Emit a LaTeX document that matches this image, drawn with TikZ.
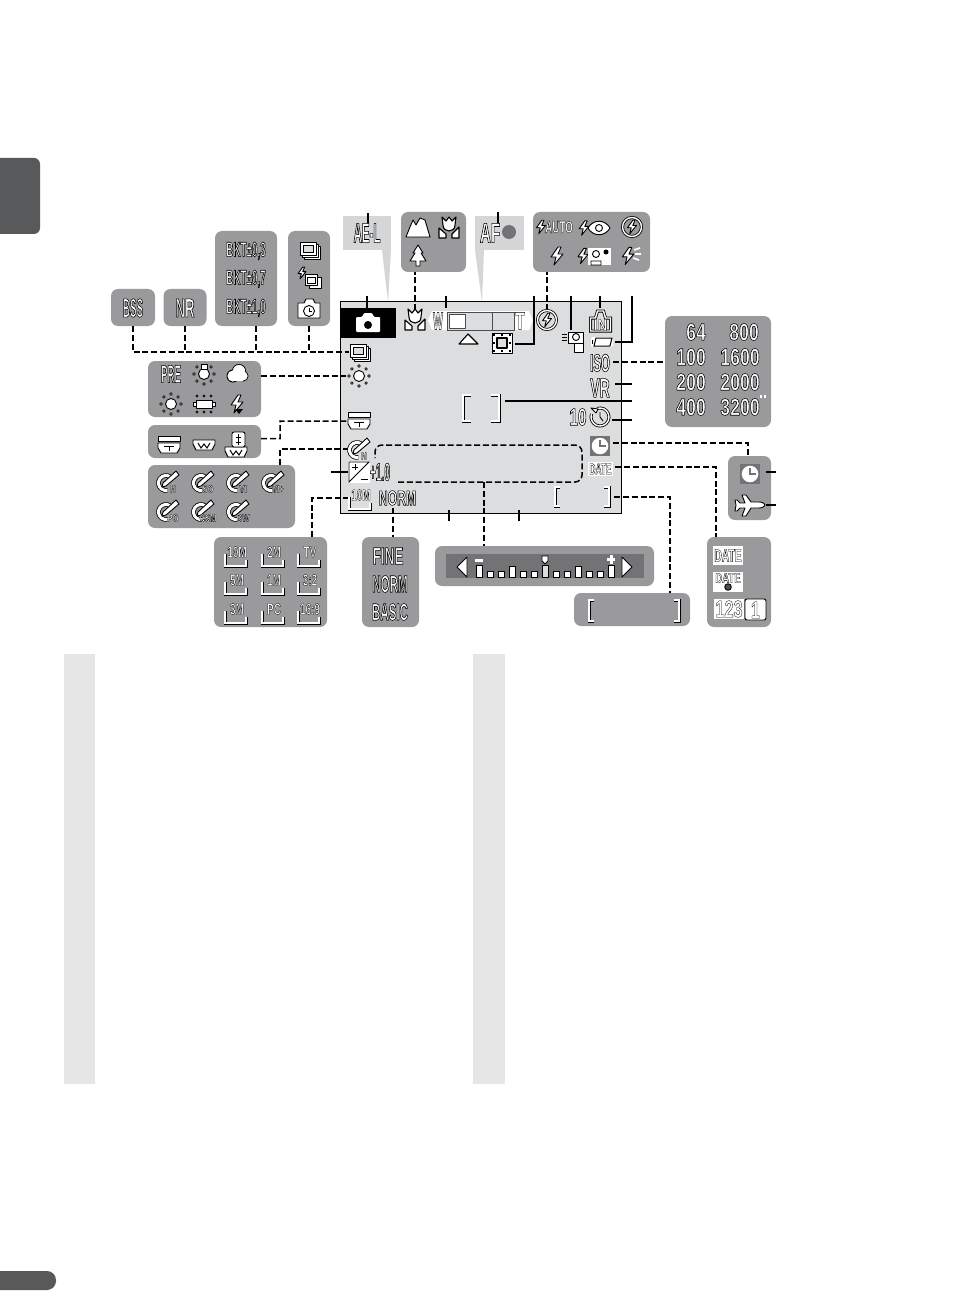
\documentclass[tikz,border=0pt]{standalone}
\usepackage{fontspec}
\usetikzlibrary{calc,positioning}
\definecolor{panelGray}{HTML}{9A9A9C}
\definecolor{screenGray}{HTML}{DCDDDF}
\definecolor{paleGray}{HTML}{E6E6E6}
\definecolor{calloutGray}{HTML}{D5D6D8}
\definecolor{tabGray}{HTML}{58595B}
\definecolor{slotGray}{HTML}{737375}
\tikzset{
  lcd/.style 2 args={inner sep=0pt,font={\fontsize{#1}{#1}\fontspec[FakeStretch=#2]{Liberation Sans}\bfseries},
    execute at begin node={\special{pdf:code q 1 1 1 rg 0 0 0 RG .55 w 2 Tr}},
    execute at end node={\special{pdf:code Q}}},
  tinylcd/.style 2 args={inner sep=0pt,font={\fontsize{#1}{#1}\fontspec[FakeStretch=#2]{Liberation Sans}\bfseries},
    execute at begin node={\special{pdf:code q 1 1 1 rg 0 0 0 RG .3 w 2 Tr}},
    execute at end node={\special{pdf:code Q}}},
  ic/.style={draw=black,fill=white,line width=.9pt,line join=round},
  ol/.style={draw=black,double=white,double distance=1.4pt,line width=.8pt},
  pics/camicon/.style={code={
    \fill[white,rounded corners=1pt] (-12,-6) -- (-6,-6) -- (-4,-10) -- (4,-10) -- (6,-6) -- (12,-6) -- (12,9) -- (-12,9) -- cycle;
    \fill[black] (0,2) circle (4);}},
  pics/bolt/.style={code={
    \draw[ic] (1,-9) -- (-6,1) -- (-1,1) -- (-3,9) -- (6,-2) -- (1,-2) -- (4,-9) -- cycle;}},
  pics/tulip/.style={code={
    \draw[ic,line width=1.1pt] (-10,0) -- (-3,6) -- (-3,10) -- (-10,10) -- cycle;
    \draw[ic,line width=1.1pt] (10,-1) -- (3,6) -- (3,10) -- (10,10) -- cycle;
    \draw[ic,line width=1.1pt] (-6,-3) -- (-7,-11) -- (-3,-7) -- (0,-11) -- (3,-7) -- (7,-11) -- (6,-3) .. controls (6,5) and (-6,5) .. (-6,-3) -- cycle;}},
  pics/hill/.style={code={
    \draw[ic] (-12,9) -- (-8,-1) -- (-5,-8) -- (-2,-3) -- (2,-10) -- (7,-8) -- (12,9) -- cycle;}},
  pics/tree/.style={code={
    \draw[ic] (0,-11) -- (-5,-3) -- (-3,-3) -- (-8,5) -- (-2,5) -- (-2,10) -- (2,10) -- (2,5) -- (8,5) -- (3,-3) -- (5,-3) -- cycle;}},
  pics/flashoff/.style={code={
    \draw[ol] (0,0) circle (9.5);
    \pic[scale=.75] {bolt};}},
  pics/redeye/.style={code={
    \pic[scale=.8] at (-11,0) {bolt};
    \draw[ic] (-7,0) .. controls (-2,-9) and (10,-9) .. (15,0) .. controls (10,9) and (-2,9) .. (-7,0) -- cycle;
    \draw[ic] (4,0) circle (3.5);}},
  pics/nightic/.style={code={
    \pic[scale=.85] at (-11,0) {bolt};
    \fill[white] (-6,-8) rectangle (17,9);
    \draw[black,line width=.9pt] (2,-2) circle (3.5) (-3,9) -- (-3,5) -- (7,5) -- (7,9) -- cycle;
    \fill[black] (12,-4) circle (2.5);}},
  pics/fillic/.style={code={
    \pic[scale=.95] at (-3,0) {bolt};
    \draw[white,line width=1.6pt] (3,-6) -- (9,-8) (4,-2) -- (10,-2) (2,2) -- (8,4);}},
  pics/sunic/.style={code={
    \draw[ic] (0,0) circle (5.5);
    \foreach \a in {0,45,...,315} \draw[ic,line width=.7pt] (\a:10) circle (1.3);}},
  pics/presetsun/.style={code={
    \draw[ic] (0,1) circle (5.5);
    \draw[ic] (-3,-9) rectangle (3,-4);
    \foreach \a in {0,45,135,180,225,90,315} \draw[ic,line width=.7pt] ($(0,1)+(\a:10)$) circle (1.3);}},
  pics/tubeic/.style={code={
    \draw[ic] (-8,-4) rectangle (8,4);
    \draw[ic] (-11,-2) rectangle (-8,2) (8,-2) rectangle (11,2);
    \foreach \a in {-7,0,7} {\draw[ic,line width=.7pt] (\a,-8) circle (1.2) (\a,8) circle (1.2);}}},
  pics/cloudic/.style={code={
    \fill[black] (-4,2) circle (6.5);
    \fill[black] (2,-3) circle (7);
    \fill[black] (6,2) circle (5.5);
    \fill[white] (-4,2) circle (5.6);
    \fill[white] (2,-3) circle (6.1);
    \fill[white] (6,2) circle (4.6);
    \fill[white] (-4,0) rectangle (6,6.5);}},
  pics/wbflash/.style={code={
    \pic {bolt};
    \fill[black] (-2,5) -- (6,5) -- (2,10) -- cycle;}},
  pics/stack/.style={code={
    \draw[ic] (-5,-4) rectangle (11,9);
    \draw[ic] (-7,-6) rectangle (9,7);
    \draw[ic] (-9,-8) rectangle (7,5);
    \draw[black,fill=screenGray,line width=.9pt] (-6,-5) rectangle (4,2);}},
  pics/bsstack/.style={code={
    \pic[scale=.65] at (-7,-6) {bolt};
    \draw[ic] (0,-2) rectangle (12,9);
    \draw[ic] (-4,-5) rectangle (8,6);
    \draw[black,line width=.9pt] (-2,-2) rectangle (6,4);}},
  pics/intervalic/.style={code={
    \draw[ic] (-11,-6) -- (-5,-6) -- (-3,-10) -- (4,-10) -- (6,-6) -- (11,-6) -- (11,9) -- (-11,9) -- cycle;
    \draw[ic] (0,2) circle (5.5);
    \draw[black,line width=.9pt] (0,-1) -- (0,2) -- (3,2);}},
  pics/shtele/.style={code={
    \draw[ic] (-11,-9) rectangle (11,-4);
    \draw[ic] (-11,-2) -- (11,-2) -- (11,3) -- (8,8) -- (-8,8) -- (-11,3) -- cycle;
    \draw[black,line width=1pt] (-5,1) -- (5,1) (0,1) -- (0,6);}},
  pics/shw/.style={code={
    \draw[ic] (-11,-5) -- (11,-5) -- (11,-1) -- (8,5) -- (-8,5) -- (-11,-1) -- cycle;
    \draw[black,line width=1pt] (-6,-2) -- (-3,3) -- (0,-1) -- (3,3) -- (6,-2);}},
  pics/shboth/.style={code={
    \pic at (-2,6) {shw};
    \draw[ic,rounded corners=2pt] (-6,-14) rectangle (7,1);
    \draw[black,line width=1pt] (.5,-12) -- (.5,-1) (-2,-9) -- (3,-9) (-2,-4) -- (3,-4);}},
  pics/colric/.style={code={
    \draw[draw=black,double=white,double distance=3pt,line width=.8pt] (-2,1) ++(-55:7.5) arc (-55:-280:7.5);
    \draw[ic,fill=white] (8,-11) -- (-5,1) -- (-6,5) -- (-2,4) -- (11,-7) -- cycle;
    \node[tinylcd={11}{.7}] (tag) at (5,7) {#1};}},
  pics/sizeic/.style={code={
    \draw[ol] (-10,-1) -- (-10,11) -- (11,11) -- (11,5);
    \node[tinylcd={16}{.62}] (tag) at (2,-3) {#1};}},
  pics/clockic/.style={code={
    \fill[slotGray] (-10,-10) rectangle (10,10);
    \fill[white] (0,0) circle (8.3);
    \draw[slotGray,line width=1.5pt] (0,-6) -- (0,0) -- (6,0);}},
  pics/planeic/.style={code={
    \draw[ic] (-9,-10) -- (-5,-10) -- (0,-3) -- (8,-3) .. controls (12,-3) and (14,-1) .. (14,0) .. controls (14,1) and (12,3) .. (8,3) -- (0,3) -- (-5,11) -- (-9,11) -- (-6,3) -- (-11,3) -- (-14,6) -- (-16,6) -- (-15,0) -- (-16,-5) -- (-14,-5) -- (-11,-2) -- (-6,-2) -- cycle;}},
  pics/timeric/.style={code={
    \draw[ol] (0,0) ++(-110:9) arc (-110:200:9);
    \draw[ic] (-9,-9) -- (-4,-4) -- (-2,-8) -- cycle;
    \draw[black,line width=.9pt] (0,-5) -- (0,0) -- (3,4);}},
  pics/afarea/.style={code={
    \draw[ic] (-10,-10) rectangle (10,10);
    \draw[ic,line width=1.6pt,fill=screenGray] (-5,-5) rectangle (5,5);
    \foreach \u/\v in {-8/-8,8/-8,-8/8,8/8,0/-8,0/8,-8/0,8/0} \fill[black] (\u-1.2,\v-1.2) rectangle (\u+1.2,\v+1.2);}},
  pics/moviec/.style={code={
    \draw[ic] (-4,-10) rectangle (11,1);
    \draw[ic] (4,-5) circle (3.5);
    \draw[ic] (2,1) rectangle (11,10);
    \draw[black,line width=1pt] (-10,-8) -- (-5,-8) (-10,-5) -- (-5,-5) (-10,-2) -- (-5,-2);}},
  pics/battic/.style={code={
    \fill[white,rounded corners=2pt] (-10,-5) rectangle (12,5);
    \draw[black,line width=1pt] (-5,-4) -- (11,-4) -- (9,4) -- (-7,4) -- cycle;
    \draw[black,line width=1pt] (-9,-2) -- (-9,2);}},
  pics/inic/.style={code={
    \draw[ol] (-10,10) -- (-10,-3) -- (-5,-3) -- (-3,-10) -- (3,-10) -- (5,-3) -- (10,-3) -- (10,10) -- cycle;
    \node[tinylcd={16}{.85}] (tag) at (0,4) {IN};}},
  pics/expic/.style={code={
    \fill[white] (-11,-11) rectangle (11,11);
    \draw[black,line width=.9pt] (-10,-10) -- (-10,10) -- (10,-10) -- cycle;
    \draw[black,line width=1pt] (-7,-5) -- (-1,-5) (-4,-8) -- (-4,-2) (2,7) -- (9,7);}},
  pics/datestamp/.style={code={
    \fill[white] (-15,-10) rectangle (15,10);
    \node[tinylcd={14}{.68}] (tag) at (0,-4) {DATE};
    \draw[ic,fill=black!70] (0,5) circle (3.3);}},
  box/.style={fill=panelGray,rounded corners=7pt,inner sep=0pt},
  slot/.style={inner sep=0pt,minimum size=20pt},
  dsh/.style={black,line width=1.5pt,dash pattern=on 6pt off 2.8pt},
  arr/.style={black,line width=1.3pt},
  brk/.style={ol}
}
\begin{document}
\begin{tikzpicture}[x=1pt,y=-1pt]
  \useasboundingbox (0,0) rectangle (954,1313);
  \fill[white] (0,0) rectangle (954,1313);

  \fill[tabGray,rounded corners=6pt] (-10,158) rectangle (40,234);
  \fill[tabGray,rounded corners=9pt] (-20,1271) rectangle (56,1290);
  \fill[paleGray] (64,654) rectangle (95,1084);
  \fill[paleGray] (473,654) rectangle (505,1084);

  \node[box,minimum width=44,minimum height=37] (bss) at (133,307.5) {};
  \node[box,minimum width=43,minimum height=37] (nrbox) at (185,307.5) {};
  \node[box,minimum width=62,minimum height=95] (bkt) at (246,278.5) {};
  \node[box,minimum width=42,minimum height=95] (cont) at (309,278.5) {};
  \node[box,minimum width=113,minimum height=56] (wbal) at (204.5,389) {};
  \node[box,minimum width=113,minimum height=33] (sharp) at (204.5,441.5) {};
  \node[box,minimum width=147,minimum height=63] (colr) at (221.5,496.5) {};
  \node[box,minimum width=113,minimum height=90] (isize) at (270.5,582) {};
  \node[box,minimum width=57,minimum height=90] (qual) at (390.5,582) {};
  \node[box,minimum width=219,minimum height=40] (tone) at (544.5,566) {};
  \node[box,minimum width=116,minimum height=33] (zone) at (632,609.5) {};
  \node[box,minimum width=64,minimum height=90] (dates) at (739,582) {};
  \node[box,minimum width=43,minimum height=64] (clocks) at (749.5,488) {};
  \node[box,minimum width=106,minimum height=111] (iso) at (718,371.5) {};
  \node[box,minimum width=117,minimum height=60] (flash) at (591.5,242) {};
  \node[box,minimum width=65,minimum height=60] (macro) at (433.5,242) {};

  \node[fill=calloutGray,minimum width=48,minimum height=34,inner sep=0pt] (ael) at (367,233) {};
  \node[fill=calloutGray,minimum width=49,minimum height=34,inner sep=0pt] (afl) at (499.5,233) {};
  \fill[calloutGray] (382,250) -- (391,250) -- (388,302) -- cycle;
  \fill[calloutGray] (475,250) -- (484,250) -- (482,302) -- cycle;

  \node[draw=black,fill=screenGray,line width=1pt,minimum width=281,minimum height=211,inner sep=0pt] (lcdscr) at (480.5,407.5) {};
  \node[fill=black,minimum width=56,minimum height=30,inner sep=0pt] (mode) at (368,323) {};
  \pic at (mode.center) {camicon};

  % screen slots
  \node[slot] (sCont) at (359,352) {};
  \node[slot] (sWb) at (359,376) {};
  \node[slot] (sSharp) at (359,421) {};
  \node[slot] (sCol) at (359,449) {};
  \node[slot] (sExp) at (359,472) {};
  \node[slot] (sSize) at (359,498) {};
  \node[slot,minimum size=10pt] (sQual) at (393,503) {};
  \node[slot] (sMacro) at (415,320) {};
  \node[slot] (sFlash) at (547,320) {};
  \node[slot,minimum size=4pt] (sIso) at (611,362) {};
  \node[slot,minimum size=4pt] (sClk) at (602,443) {};
  \node[slot,minimum size=4pt] (sDate) at (613,467) {};
  \node[slot,minimum size=4pt] (sZone) at (612,497) {};
  \coordinate (xBkt) at (256,326);
  \coordinate (xCol) at (280,465);
  \coordinate (xSize) at (312,537);
  \coordinate (xClk) at (748,456);
  \coordinate (xDate) at (716,537);
  \coordinate (xZone) at (670,593);
  \coordinate (xSharp) at (280,421);
  \coordinate (afTail) at (534,296);
  \coordinate (afHead) at (515,344);
  \coordinate (batTail) at (632,296);
  \coordinate (batHead) at (615,342);

  % connectors
  \draw[dsh] (bss.south) |- (sCont.west);
  \draw[dsh] (nrbox.south) -- ++(0,25);
  \draw[dsh] (xBkt) -- ++(0,25);
  \draw[dsh] (cont.south) -- ++(0,25);
  \draw[dsh] (wbal.east |- sWb) -- (sWb.west);
  \draw[dsh] (sharp.east) ++(0,-3) -- ++(19,0) -- (xSharp) -- (sSharp.west);
  \draw[dsh] (xCol) |- (sCol.west);
  \draw[dsh] (xSize) |- (sSize.west);
  \draw[dsh] (sQual.south) -- (sQual |- qual.north);
  \draw[dsh] (sMacro.north) -- (sMacro |- macro.south);
  \draw[dsh] (sFlash.north) -- (sFlash |- flash.south);
  \draw[dsh] (sIso.east) -- (iso.west |- sIso);
  \draw[dsh] (sClk.east) -| (xClk);
  \draw[dsh] (sDate.east) -| (xDate);
  \draw[dsh] (sZone.east) -| (xZone);

  \coordinate (toneA) at (398,482);
  \coordinate (toneB) at (582,445);
  \coordinate (toneC) at (375,458);
  \coordinate (toneD) at (484,482);
  \draw[dsh,rounded corners=7pt] (toneA) -| (toneB) -| (toneC);
  \draw[dsh] (toneD) -- (toneD |- tone.north);

  \draw[arr] (afTail) |- (afHead);
  \draw[arr] (batTail) |- (batHead);
  \coordinate (tAelA) at (368,213); \coordinate (tAelB) at (368,226);
  \coordinate (tModeA) at (367,296); \coordinate (tModeB) at (367,308);
  \coordinate (tZoomA) at (446,296); \coordinate (tZoomB) at (446,308);
  \coordinate (tAfA) at (498,212); \coordinate (tAfB) at (498,224);
  \coordinate (tMovA) at (571,296); \coordinate (tMovB) at (571,330);
  \coordinate (tInA) at (600,296); \coordinate (tInB) at (600,308);
  \coordinate (tVrA) at (615,384); \coordinate (tVrB) at (632,384);
  \coordinate (tFocA) at (505,401); \coordinate (tFocB) at (632,401);
  \coordinate (tTimA) at (612,420); \coordinate (tTimB) at (632,420);
  \coordinate (tExpA) at (331,472);
  \coordinate (tLowA) at (449,510); \coordinate (tLowB) at (449,521);
  \coordinate (tLowC) at (519,510); \coordinate (tLowD) at (519,521);
  \coordinate (tClkA) at (766,472); \coordinate (tClkB) at (776,472);
  \coordinate (tPlnA) at (766,505); \coordinate (tPlnB) at (776,505);
  \draw[arr] (tAelA) -- (tAelB);
  \draw[arr] (tModeA) -- (tModeB);
  \draw[arr] (tZoomA) -- (tZoomB);
  \draw[arr] (tAfA) -- (tAfB);
  \draw[arr] (tMovA) -- (tMovB);
  \draw[arr] (tInA) -- (tInB);
  \draw[arr] (tVrA) -- (tVrB);
  \draw[arr] (tFocA) -- (tFocB);
  \draw[arr] (tTimA) -- (tTimB);
  \draw[arr] (tExpA) -- (sExp.west);
  \draw[arr] (tLowA) -- (tLowB);
  \draw[arr] (tLowC) -- (tLowD);
  \draw[arr] (tClkA) -- (tClkB);
  \draw[arr] (tPlnA) -- (tPlnB);

  % panel contents
  \node[lcd={26.5}{.37}] (tBss) at (133,308) {BSS};
  \node[lcd={26.5}{.5}] (tNr) at (185,308) {NR};
  \node[lcd={21}{.47}] (tBktA) at (246,251) {BKT\textpm0,3};
  \node[lcd={21}{.47}] (tBktB) at (246,279) {BKT\textpm0,7};
  \node[lcd={21}{.47}] (tBktC) at (246,308) {BKT\textpm1,0};
  \pic at (309,250) {stack};
  \pic at (309,279) {bsstack};
  \pic at (309,309) {intervalic};

  \node[lcd={25}{.39}] (tPre) at (171,374) {PRE};
  \pic at (204,373) {presetsun};
  \pic at (237,374) {cloudic};
  \pic at (171,404) {sunic};
  \pic at (204,404) {tubeic};
  \pic at (237,404) {wbflash};

  \pic at (169,445) {shtele};
  \pic at (204,445) {shw};
  \pic at (238,446) {shboth};

  \foreach \u/\v/\t in {168/482/N,203/482/SO,238/482/VI,273/482/VI+,168/511/PO,203/511/CSM,238/511/BW} \pic at (\u,\v) {colric=\t};
  \foreach \u/\v/\t in {235/555/10M,272/555/2M,308/555/TV,235/583/5M,272/583/1M,308/583/3:2,235/612/3M,272/612/PC,308/612/16:9} \pic at (\u,\v) {sizeic=\t};

  \node[lcd={24}{.56}] (tFine) at (388,556) {FINE};
  \node[lcd={24}{.48}] (tNorm) at (390,584) {NORM};
  \node[lcd={24}{.48}] (tBasic) at (390,612) {BASIC};

  \fill[slotGray] (446,554) rectangle (644,578);
  \draw[ic] (467,557) -- (457,567) -- (467,577) -- cycle;
  \draw[ic] (622,557) -- (632,567) -- (622,577) -- cycle;
  \foreach \u in {490,501,523,534,556,567,589,600} \draw[ic] (\u-3,571) rectangle (\u+3,577);
  \foreach \u in {512,578} \draw[ic] (\u-3,566) rectangle (\u+3,577);
  \foreach \u in {479,611} \draw[ic] (\u-3,565) rectangle (\u+3,577);
  \draw[ic,fill=screenGray] (542,565) rectangle (548,577);
  \draw[ic] (542,556) -- (548,556) -- (548,561) -- (545,564) -- (542,561) -- cycle;
  \fill[white] (475,558.5) rectangle (483,561.5);
  \fill[white] (607,558) rectangle (615,561);
  \fill[white] (609.5,554.5) rectangle (612.5,564);

  \draw[brk] (594,600) -- (589,600) -- (589,621) -- (594,621);
  \draw[brk] (674,600) -- (679,600) -- (679,621) -- (674,621);

  \fill[white] (713,546) rectangle (743,565);
  \node[tinylcd={18}{.57}] (tDate) at (728,555.5) {DATE};
  \pic at (728,582) {datestamp};
  \fill[white] (714,599) rectangle (744,619);
  \fill[white,draw=black,line width=.9pt,rounded corners=2pt] (745,599) rectangle (766,620);
  \node[tinylcd={24}{.68}] (tCnt) at (729,609) {123};
  \node[tinylcd={24}{.68}] (tOne) at (755.5,610) {1};

  \pic at (750,474) {clockic};
  \pic at (751,505) {planeic};

  \foreach \u/\v/\t in {696/332/64,744/332/800,691/357/100,740/357/1600,691/382/200,740/382/2000,691/407/400,740/407/3200} \node[lcd={24}{.74}] (tIso\t) at (\u,\v) {\t};
  \fill[white] (760,395) rectangle (762,398);
  \fill[white] (764,395) rectangle (766,398);

  \pic at (449,228) {tulip};
  \pic at (418,228) {hill};
  \pic at (418,256) {tree};

  \pic[scale=.75] at (541,227) {bolt};
  \node[tinylcd={17}{.58}] (tAuto) at (559,227) {AUTO};
  \pic at (595,228) {redeye};
  \pic at (632,227) {flashoff};
  \pic at (557,256) {bolt};
  \pic at (594,256) {nightic};
  \pic at (631,256) {fillic};

  \node[lcd={28}{.41}] (tAel) at (367,233) {AE-L};
  \node[lcd={28}{.54}] (tAf) at (490,233) {AF};
  \fill[slotGray] (509,232) circle (7);

  % screen contents
  \pic at (415,320) {tulip};
  \fill[white] (428,320.5) -- (432,311) -- (529,311) -- (533,320.5) -- (529,330) -- (432,330) -- cycle;
  \node[tinylcd={25}{.42}] (tWide) at (438,321) {W};
  \node[tinylcd={25}{.65}] (tTele) at (520,321) {T};
  \fill[screenGray] (447,312) rectangle (514,330);
  \draw[black!70,line width=.8pt] (447,312) rectangle (514,330) (492,312) -- (492,330);
  \draw[ic,draw=black!70] (449,314) rectangle (465,328);
  \draw[ic,line width=1.1pt] (459,344) -- (468,334) -- (478,344) -- cycle;
  \pic at (502,343) {afarea};
  \pic at (547,320) {flashoff};
  \pic at (572,342) {moviec};
  \pic at (600.5,321) {inic};
  \pic at (601,342) {battic};
  \node[lcd={25}{.46}] (tIsoS) at (600,363) {ISO};
  \node[lcd={27}{.52}] (tVr) at (600,388) {VR};
  \draw[brk] (471,395) -- (463,395) -- (463,421) -- (471,421);
  \draw[brk] (491,395) -- (499,395) -- (499,421) -- (491,421);
  \node[lcd={24}{.64}] (tSec) at (578,417) {10};
  \pic at (600,417) {timeric};
  \pic at (600,446) {clockic};
  \fill[white] (588,462) rectangle (613,476);
  \node[tinylcd={16}{.52}] (tDateS) at (600.5,469) {DATE};
  \draw[brk] (560,487) -- (555,487) -- (555,506) -- (560,506);
  \draw[brk] (604,487) -- (609,487) -- (609,506) -- (604,506);
  \pic at (359,352) {stack};
  \pic at (359,376) {sunic};
  \pic at (359,421) {shtele};
  \pic at (359,449) {colric=N};
  \pic at (359,472) {expic};
  \node[lcd={25}{.41}] (tEv) at (380,472) {+1.0};
  \pic at (359,498) {sizeic=10M};
  \node[lcd={21}{.58}] (tNormS) at (397.5,498) {NORM};
\end{tikzpicture}
\end{document}
